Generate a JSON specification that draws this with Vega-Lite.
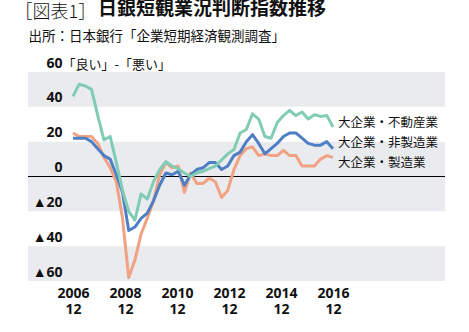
{
  "$schema": "https://vega.github.io/schema/vega-lite/v6.json",
  "width": 417,
  "height": 209,
  "autosize": {"type": "none"},
  "padding": {"left": 28, "top": 72, "right": 24, "bottom": 51},
  "background": "white",
  "title": {
    "text": "日銀短観業況判断指数推移",
    "anchor": "start",
    "frame": "group",
    "font": "Noto Sans CJK JP",
    "fontSize": 19,
    "fontWeight": "bold",
    "color": "#111111",
    "dx": 70,
    "dy": 15,
    "offset": 0
  },
  "config": {
    "view": {"stroke": null},
    "font": "Noto Sans CJK JP"
  },
  "resolve": {"axis": {"x": "independent", "y": "independent"}},
  "data": {
    "values": [
      {"idx": 0, "period": "2006/12", "mfg": 25, "nonmfg": 22, "re": 46},
      {"idx": 1, "period": "2007/3", "mfg": 23, "nonmfg": 22, "re": 53},
      {"idx": 2, "period": "2007/6", "mfg": 23, "nonmfg": 22, "re": 52},
      {"idx": 3, "period": "2007/9", "mfg": 23, "nonmfg": 20, "re": 50},
      {"idx": 4, "period": "2007/12", "mfg": 19, "nonmfg": 16, "re": 35},
      {"idx": 5, "period": "2008/3", "mfg": 11, "nonmfg": 12, "re": 21},
      {"idx": 6, "period": "2008/6", "mfg": 5, "nonmfg": 10, "re": 23},
      {"idx": 7, "period": "2008/9", "mfg": -3, "nonmfg": 1, "re": 8},
      {"idx": 8, "period": "2008/12", "mfg": -24, "nonmfg": -9, "re": -8},
      {"idx": 9, "period": "2009/3", "mfg": -58, "nonmfg": -31, "re": -20},
      {"idx": 10, "period": "2009/6", "mfg": -48, "nonmfg": -29, "re": -25},
      {"idx": 11, "period": "2009/9", "mfg": -33, "nonmfg": -24, "re": -10},
      {"idx": 12, "period": "2009/12", "mfg": -24, "nonmfg": -21, "re": -13},
      {"idx": 13, "period": "2010/3", "mfg": -14, "nonmfg": -14, "re": -3},
      {"idx": 14, "period": "2010/6", "mfg": 1, "nonmfg": -5, "re": 4},
      {"idx": 15, "period": "2010/9", "mfg": 8, "nonmfg": 2, "re": 8.5},
      {"idx": 16, "period": "2010/12", "mfg": 5, "nonmfg": 1, "re": 6},
      {"idx": 17, "period": "2011/3", "mfg": 6, "nonmfg": 3, "re": 4.5},
      {"idx": 18, "period": "2011/6", "mfg": -9, "nonmfg": -5, "re": 2},
      {"idx": 19, "period": "2011/9", "mfg": 2, "nonmfg": 1, "re": 0},
      {"idx": 20, "period": "2011/12", "mfg": -4, "nonmfg": 4, "re": 2},
      {"idx": 21, "period": "2012/3", "mfg": -4, "nonmfg": 5, "re": 3},
      {"idx": 22, "period": "2012/6", "mfg": -1, "nonmfg": 8, "re": 4.5},
      {"idx": 23, "period": "2012/9", "mfg": -3, "nonmfg": 8, "re": 6},
      {"idx": 24, "period": "2012/12", "mfg": -12, "nonmfg": 4, "re": 9.5},
      {"idx": 25, "period": "2013/3", "mfg": -8, "nonmfg": 6, "re": 13},
      {"idx": 26, "period": "2013/6", "mfg": 4, "nonmfg": 12, "re": 15.5},
      {"idx": 27, "period": "2013/9", "mfg": 12, "nonmfg": 14, "re": 25},
      {"idx": 28, "period": "2013/12", "mfg": 16, "nonmfg": 20, "re": 27},
      {"idx": 29, "period": "2014/3", "mfg": 17, "nonmfg": 24, "re": 36},
      {"idx": 30, "period": "2014/6", "mfg": 12, "nonmfg": 19, "re": 33},
      {"idx": 31, "period": "2014/9", "mfg": 13, "nonmfg": 13, "re": 23},
      {"idx": 32, "period": "2014/12", "mfg": 12, "nonmfg": 16, "re": 22},
      {"idx": 33, "period": "2015/3", "mfg": 12, "nonmfg": 19, "re": 31},
      {"idx": 34, "period": "2015/6", "mfg": 15, "nonmfg": 23, "re": 35},
      {"idx": 35, "period": "2015/9", "mfg": 12, "nonmfg": 25, "re": 38},
      {"idx": 36, "period": "2015/12", "mfg": 12, "nonmfg": 25, "re": 35},
      {"idx": 37, "period": "2016/3", "mfg": 6, "nonmfg": 22, "re": 37},
      {"idx": 38, "period": "2016/6", "mfg": 6, "nonmfg": 19, "re": 33},
      {"idx": 39, "period": "2016/9", "mfg": 6, "nonmfg": 18, "re": 35.5},
      {"idx": 40, "period": "2016/12", "mfg": 10, "nonmfg": 18, "re": 34.5},
      {"idx": 41, "period": "2017/3", "mfg": 12, "nonmfg": 20, "re": 35},
      {"idx": 42, "period": "2017/6", "mfg": 11, "nonmfg": 16, "re": 28.5}
    ]
  },
  "layer": [
    {
      "data": {"values": [{"lo": 40, "hi": 60}, {"lo": -20, "hi": 20}, {"lo": -60, "hi": -40}]},
      "mark": {"type": "rect", "color": "#e9ebee"},
      "encoding": {
        "y": {
          "field": "lo",
          "type": "quantitative",
          "scale": {"domain": [-60, 60], "nice": false},
          "axis": {
            "values": [-60, -40, -20, 0, 20, 40, 60],
            "labelExpr": "datum.value < 0 ? '▲' + toString(-datum.value) : toString(datum.value)",
            "grid": false,
            "domain": false,
            "ticks": false,
            "zindex": 1,
            "labelPadding": -34,
            "labelAlign": "right",
            "labelBaseline": "alphabetic",
            "labelOffset": -5,
            "labelFont": "Open Sans",
            "labelFontSize": 14,
            "labelFontWeight": "bold",
            "labelColor": "#111111",
            "labelFlush": false,
            "labelOverlap": false,
            "labelBound": false,
            "title": "「良い」-「悪い」",
            "titleAngle": 0,
            "titleX": 34,
            "titleY": -8,
            "titleAlign": "left",
            "titleBaseline": "middle",
            "titleFont": "Noto Sans CJK JP",
            "titleFontSize": 13,
            "titleFontWeight": "normal",
            "titleColor": "#111111"
          }
        },
        "y2": {"field": "hi"}
      }
    },
    {
      "mark": {"type": "rule", "color": "#000000", "strokeWidth": 1},
      "encoding": {"y": {"datum": 0, "type": "quantitative", "scale": {"domain": [-60, 60], "nice": false}, "axis": null}}
    },
    {
      "mark": {"type": "line", "color": "#f0a283", "strokeWidth": 3, "strokeJoin": "round"},
      "encoding": {
        "x": {
          "field": "idx",
          "type": "quantitative",
          "scale": {"domain": [-7.27, 60.1], "nice": false, "zero": false},
          "axis": {
            "values": [0, 8.4, 16.8, 25.2, 33.6, 42],
            "labelExpr": "[toString(2006 + 2 * round(datum.value / 8.4)), '12']",
            "grid": false,
            "domain": false,
            "ticks": false,
            "labelFont": "Open Sans",
            "labelFontSize": 14,
            "labelFontWeight": "bold",
            "labelColor": "#111111",
            "labelPadding": 5,
            "labelBaseline": "top",
            "labelLineHeight": 16.5,
            "labelFlush": false,
            "labelOverlap": false,
            "title": "出所：日本銀行「企業短期経済観測調査」",
            "titleX": 0,
            "titleY": -245,
            "titleAlign": "left",
            "titleAnchor": null,
            "titleBaseline": "middle",
            "titleFont": "Noto Sans CJK JP",
            "titleFontSize": 13.5,
            "titleFontWeight": "normal",
            "titleColor": "#111111"
          }
        },
        "y": {"field": "mfg", "type": "quantitative", "scale": {"domain": [-60, 60], "nice": false}, "axis": null}
      }
    },
    {
      "mark": {"type": "line", "color": "#4e7fc4", "strokeWidth": 3, "strokeJoin": "round"},
      "encoding": {
        "x": {"field": "idx", "type": "quantitative", "scale": {"domain": [-7.27, 60.1], "nice": false, "zero": false}, "axis": null},
        "y": {"field": "nonmfg", "type": "quantitative", "scale": {"domain": [-60, 60], "nice": false}, "axis": null}
      }
    },
    {
      "mark": {"type": "line", "color": "#80ccb5", "strokeWidth": 3, "strokeJoin": "round"},
      "encoding": {
        "x": {
          "field": "idx",
          "type": "quantitative",
          "scale": {"domain": [-7.27, 60.1], "nice": false, "zero": false},
          "axis": {
            "orient": "top",
            "labels": false,
            "ticks": false,
            "domain": false,
            "grid": false,
            "title": "［図表1］",
            "titleX": -14,
            "titleY": -59.5,
            "titleAlign": "left",
            "titleAnchor": null,
            "titleBaseline": "middle",
            "titleFont": "Noto Sans CJK JP",
            "titleFontSize": 18,
            "titleFontWeight": 300,
            "titleColor": "#111111"
          }
        },
        "y": {"field": "re", "type": "quantitative", "scale": {"domain": [-60, 60], "nice": false}, "axis": null}
      }
    },
    {
      "transform": [{"filter": "datum.idx == 42"}],
      "mark": {"type": "text", "align": "left", "baseline": "middle", "dx": 5, "dy": -4, "font": "Noto Sans CJK JP", "fontSize": 12.5, "color": "#111111"},
      "encoding": {
        "x": {"field": "idx", "type": "quantitative", "scale": {"domain": [-7.27, 60.1], "nice": false, "zero": false}, "axis": null},
        "y": {"field": "re", "type": "quantitative", "scale": {"domain": [-60, 60], "nice": false}, "axis": null},
        "text": {"value": "大企業・不動産業"}
      }
    },
    {
      "transform": [{"filter": "datum.idx == 42"}],
      "mark": {"type": "text", "align": "left", "baseline": "middle", "dx": 5, "dy": -6, "font": "Noto Sans CJK JP", "fontSize": 12.5, "color": "#111111"},
      "encoding": {
        "x": {"field": "idx", "type": "quantitative", "scale": {"domain": [-7.27, 60.1], "nice": false, "zero": false}, "axis": null},
        "y": {"field": "nonmfg", "type": "quantitative", "scale": {"domain": [-60, 60], "nice": false}, "axis": null},
        "text": {"value": "大企業・非製造業"}
      }
    },
    {
      "transform": [{"filter": "datum.idx == 42"}],
      "mark": {"type": "text", "align": "left", "baseline": "middle", "dx": 5, "dy": 6, "font": "Noto Sans CJK JP", "fontSize": 12.5, "color": "#111111"},
      "encoding": {
        "x": {"field": "idx", "type": "quantitative", "scale": {"domain": [-7.27, 60.1], "nice": false, "zero": false}, "axis": null},
        "y": {"field": "mfg", "type": "quantitative", "scale": {"domain": [-60, 60], "nice": false}, "axis": null},
        "text": {"value": "大企業・製造業"}
      }
    }
  ]
}
